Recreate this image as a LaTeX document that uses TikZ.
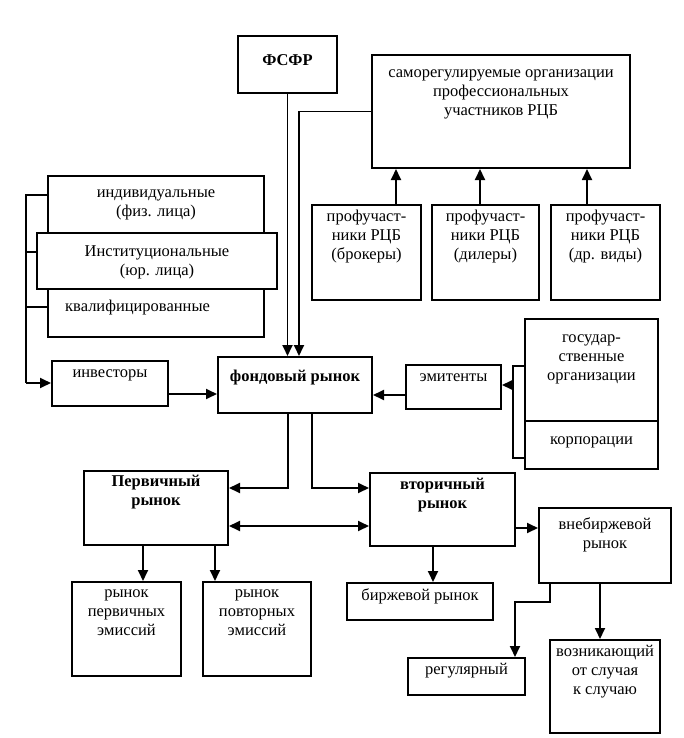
\documentclass[tikz,border=0pt]{standalone}
\usepackage{fontspec}
\setmainfont{Liberation Serif}
\usetikzlibrary{fit,arrows.meta}
\begin{document}
\begin{tikzpicture}[x=1pt,y=-1pt,
  box/.style={draw, line width=2pt, inner sep=0pt, fill=white},
  lbl/.style={align=center, inner sep=0pt, font=\fontsize{16.5}{19}\selectfont},
  blbl/.style={align=center, inner sep=0pt, font=\fontsize{16.5}{19}\selectfont\bfseries},
  conn/.style={line width=1.8pt},
  arr/.style={line width=1.8pt, -{Triangle[length=11pt,width=10pt]}},
  darr/.style={line width=1.8pt, {Triangle[length=11pt,width=10pt]}-{Triangle[length=11pt,width=10pt]}}]
\useasboundingbox (0,0) rectangle (683,738);
% boxes
\node[box, fit={(238,36) (337,93)}] (fsfr) {};
\node[box, fit={(372,55) (630,168)}] (sro) {};
\node[box, fit={(312,205) (421,300)}] (br) {};
\node[box, fit={(432,205) (539,300)}] (dl) {};
\node[box, fit={(551,205) (660,300)}] (ot) {};
\node[box, fit={(48,176) (264,337)}] (indiv) {};
\node[box, fit={(37,233) (277,289)}] (inst) {};
\node[box, fit={(52,361) (168,406)}] (inv) {};
\node[box, fit={(218,357) (372,413)}] (fond) {};
\node[box, fit={(406,365) (501,409)}] (emit) {};
\node[box, fit={(525,319) (658,421)}] (gos) {};
\node[box, fit={(525,421) (658,469)}] (korp) {};
\node[box, fit={(84,471) (228,545)}] (perv) {};
\node[box, fit={(370,473) (515,546)}] (vtor) {};
\node[box, fit={(72,582) (181,676)}] (pe1) {};
\node[box, fit={(203,582) (311,676)}] (pe2) {};
\node[box, fit={(347,583) (493,620)}] (birzh) {};
\node[box, fit={(539,508) (671,583)}] (vneb) {};
\node[box, fit={(408,658) (525,695)}] (reg) {};
\node[box, fit={(550,640) (660,733)}] (vozn) {};
% labels
\node[blbl] (tfsfr) at (287.5,60) {ФСФР};
\node[lbl] (tsro) at (501,94) {саморегулируемые организации\\профессиональных\\участников РЦБ};
\node[lbl] (tbr) at (366.5,237) {профучаст-\\ники РЦБ\\(брокеры)};
\node[lbl] (tdl) at (485.5,237) {профучаст-\\ники РЦБ\\(дилеры)};
\node[lbl] (tot) at (605.5,237) {профучаст-\\ники РЦБ\\(др. виды)};
\node[lbl] (tindiv) at (156,205) {индивидуальные\\(физ. лица)};
\node[lbl] (tinst) at (157,262) {Институциональные\\(юр. лица)};
\node[lbl, anchor=west] (tqual) at (65,308) {квалифицированные};
\node[lbl] (tinv) at (110,375) {инвесторы};
\node[blbl] (tfond) at (295,378) {фондовый рынок};
\node[lbl] (temit) at (453.5,378) {эмитенты};
\node[lbl] (tgos) at (591.5,359) {государ-\\ственные\\организации};
\node[lbl] (tkorp) at (591.5,442) {корпорации};
\node[blbl] (tperv) at (156,492) {Первичный\\рынок};
\node[blbl] (tvtor) at (442.5,495) {вторичный\\рынок};
\node[lbl] (tpe1) at (126.5,613) {рынок\\первичных\\эмиссий};
\node[lbl] (tpe2) at (257,613) {рынок\\повторных\\эмиссий};
\node[lbl] (tbirzh) at (420,596) {биржевой рынок};
\node[lbl] (tvneb) at (605,535) {внебиржевой\\рынок};
\node[lbl] (treg) at (466.5,671) {регулярный};
\node[lbl] (tvozn) at (605,672) {возникающий\\от случая\\к случаю};
% connectors top
\draw[arr] (fsfr.south) -- (fsfr.south |- fond.north);
\draw[arr] (sro.west) -| ([xshift=4pt]fond.north);
\draw[arr] (br.north -| 396,0) -- (sro.south -| 396,0);
\draw[arr] (dl.north -| 480,0) -- (sro.south -| 480,0);
\draw[arr] (ot.north -| 587,0) -- (sro.south -| 587,0);
% investors bracket
\coordinate (ib1) at (26,195);
\coordinate (ib2) at (26,252);
\coordinate (ib3) at (26,307);
\coordinate (ib4) at (26,383);
\draw[conn] (ib1 -| indiv.west) -- (ib1) -- (ib4);
\draw[conn] (ib2) -- (ib2 -| inst.west);
\draw[conn] (ib3) -- (ib3 -| indiv.west);
\draw[arr] (ib4) -- (ib4 -| inv.west);
\draw[arr] (inv.east |- 0,394) -- (fond.west |- 0,394);
% emitents bracket
\coordinate (eb1) at (513,366);
\coordinate (eb2) at (513,458);
\coordinate (eb3) at (513,385);
\draw[conn] (eb1 -| gos.west) -- (eb1) -- (eb2) -- (eb2 -| korp.west);
\draw[arr] (eb3) -- (eb3 -| emit.east);
\draw[arr] (emit.west |- 0,395) -- (fond.east |- 0,395);
% market split
\coordinate (fl) at (288,488);
\coordinate (fr) at (312,488);
\draw[arr] (fond.south -| fl) -- (fl) -- (fl -| perv.east);
\draw[arr] (fond.south -| fr) -- (fr) -- (fr -| vtor.west);
\draw[darr] (perv.east |- 0,526) -- (vtor.west |- 0,526);
\draw[arr] (perv.south -| 143,0) -- (pe1.north -| 143,0);
\draw[arr] (perv.south -| 215,0) -- (pe2.north -| 215,0);
\draw[arr] (vtor.south -| 433,0) -- (birzh.north -| 433,0);
\draw[arr] (vtor.east |- 0,528) -- (vneb.west |- 0,528);
\coordinate (vr1) at (550,602);
\coordinate (vr2) at (515,602);
\draw[arr] (vneb.south -| vr1) -- (vr1) -- (vr2) -- (vr2 |- reg.north);
\draw[arr] (vneb.south -| 600,0) -- (vozn.north -| 600,0);
\end{tikzpicture}
\end{document}
